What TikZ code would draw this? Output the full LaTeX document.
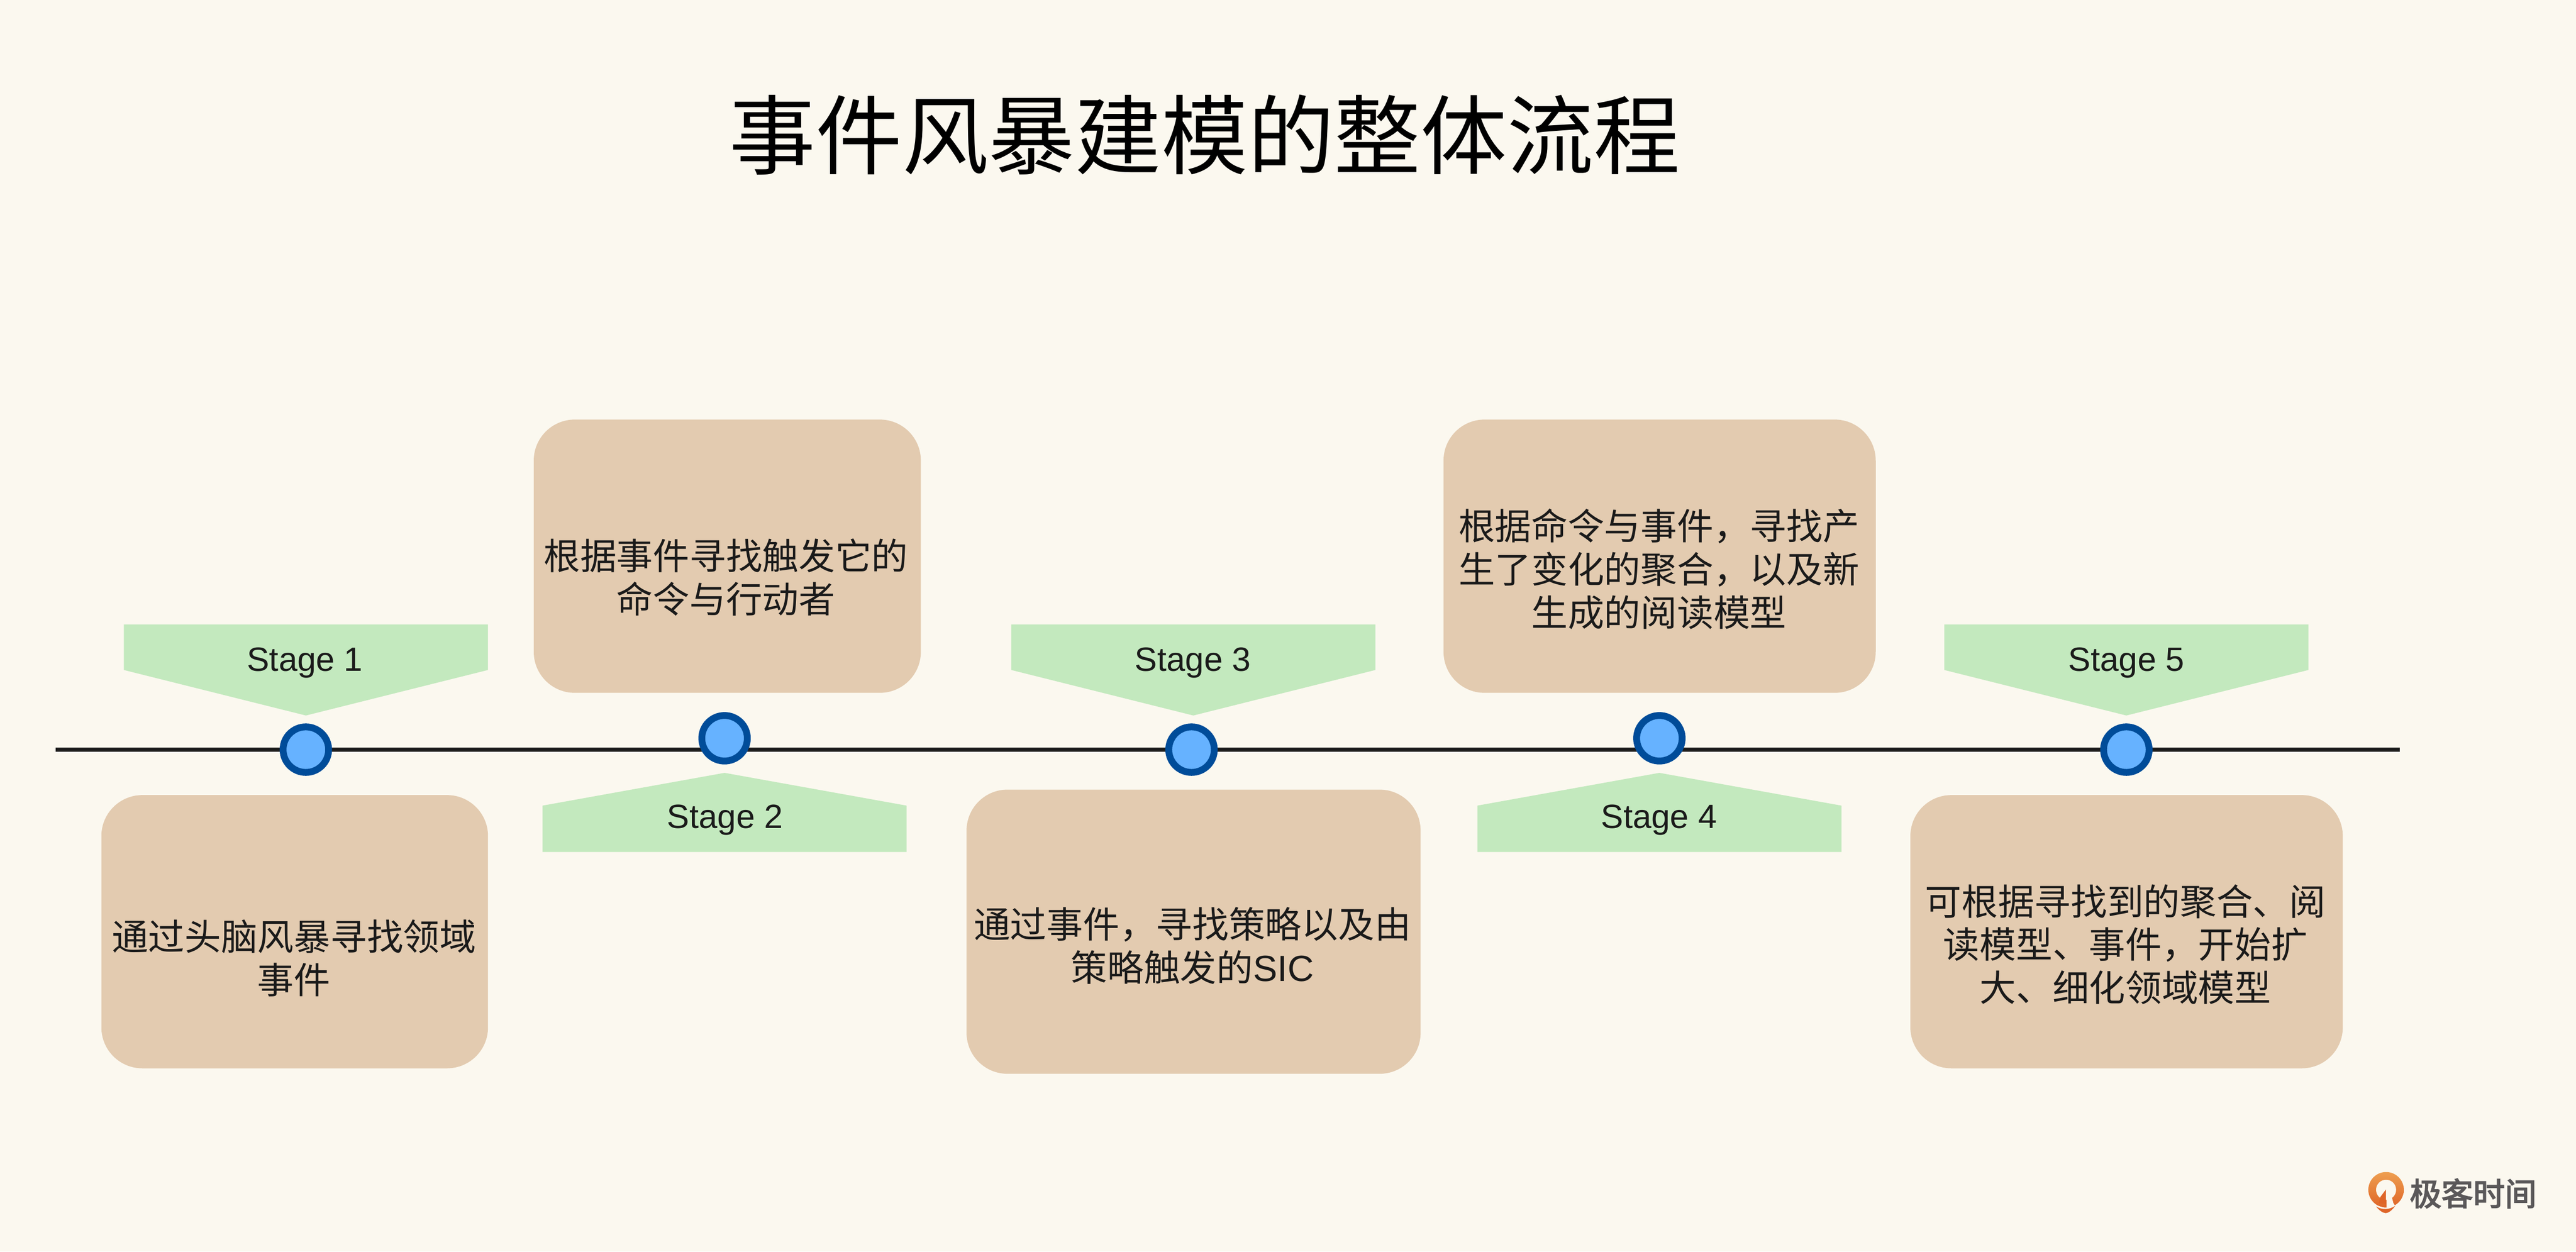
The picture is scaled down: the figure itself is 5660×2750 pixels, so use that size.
\documentclass[tikz,border=0pt]{standalone}
\usepackage{fontspec}
\setmainfont{Liberation Sans}
\newfontfamily\cjk{Noto Sans CJK SC}
\newfontfamily\logofont[FakeBold=3]{Noto Sans CJK SC}
\definecolor{pagebg}{HTML}{FBF8EF}
\definecolor{boxfill}{HTML}{E3CBB0}
\definecolor{stagefill}{HTML}{C3E9BE}
\definecolor{dotfill}{HTML}{66B2FF}
\definecolor{dotline}{HTML}{004C99}
\definecolor{textcol}{HTML}{1A1A1A}
\definecolor{logotop}{HTML}{EE9F50}
\definecolor{logobot}{HTML}{DF6528}
\definecolor{logotext}{HTML}{5A5859}
\tikzset{
    notebox/.style={rectangle, rounded corners=0.9cm, fill=boxfill, inner sep=0pt},
    notetext/.style={align=center, text=textcol, inner sep=0pt, font=\cjk\fontsize{22.76}{27}\selectfont},
    stagetext/.style={text=textcol, inner sep=0pt, font=\fontsize{21}{25}\selectfont},
    stagedot/.style={circle, minimum size=1cm, inner sep=0pt, fill=dotfill, draw=dotline, line width=0.15cm},
}
\begin{document}
\begin{tikzpicture}[x=0.01cm, y=-0.01cm]
    % Page
    \fill[pagebg] (0,0) rectangle (5660,2750);
    \useasboundingbox (0,0) rectangle (5660,2750);

    \node[text=black, inner sep=0pt, font=\cjk\fontsize{54}{60}\selectfont] (title) at (2647,296) {事件风暴建模的整体流程};

    % Stage flags above the line
    \foreach \x/\t/\n in {672/670/1, 2622/2621/3, 4672/4672/5} {
        \fill[stagefill] (\x-400,1372) -- (\x+400,1372) -- (\x+400,1472) -- (\x,1572) -- (\x-400,1472) -- cycle;
        \node[stagetext] (stage\n) at (\t,1456) {Stage \n};
    }
    % Stage flags below the line
    \foreach \x/\t/\n in {1592/1593/2, 3646/3645/4} {
        \fill[stagefill] (\x-400,1872) -- (\x+400,1872) -- (\x+400,1770) -- (\x,1698) -- (\x-400,1770) -- cycle;
        \node[stagetext] (stage\n) at (\t,1802) {Stage \n};
    }

    % Boxes
    \node[notebox, minimum width=8.49cm, minimum height=6cm] (boxa) at (647.5,2047) {};
    \node[notebox, minimum width=8.5cm, minimum height=6cm] (boxb) at (1598,1222) {};
    \node[notebox, minimum width=9.97cm, minimum height=6.24cm] (boxc) at (2622.5,2047) {};
    \node[notebox, minimum width=9.49cm, minimum height=6cm] (boxd) at (3646.5,1222) {};
    \node[notebox, minimum width=9.495cm, minimum height=6cm] (boxe) at (4672.5,2047) {};

    \node[notetext] (texta) at (646,2105) {通过头脑风暴寻找领域\\事件};
    \node[notetext] (textb) at (1595,1268) {根据事件寻找触发它的\\命令与行动者};
    \node[notetext] (textc) at (2620,2078) {通过事件，寻找策略以及由\\策略触发的{\rmfamily SIC}};
    \node[notetext] (textd) at (3645,1250) {根据命令与事件，寻找产\\生了变化的聚合，以及新\\生成的阅读模型};
    \node[notetext] (texte) at (4670,2075) {可根据寻找到的聚合、阅\\读模型、事件，开始扩\\大、细化领域模型};

    % Time line and its dots
    \coordinate (linestart) at (122,1647);
    \coordinate (lineend) at (5273,1647);
    \draw[textcol, line width=0.1cm] (linestart) -- (lineend);
    \foreach \x/\y/\n in {672/1647/1, 1592/1622/2, 2618/1647/3, 3646/1622/4, 4672/1647/5} {
        \node[stagedot] (dot\n) at (\x,\y) {};
    }

    % Logo
    \begin{scope}[shift={(5190,2560)}, scale=0.3333]
        \shade[top color=logotop, bottom color=logobot] (158,162) circle (117);
        \fill[pagebg] (158,162) circle (66);
        \fill[logobot] (157,160) -- (120,210) -- (110,250) -- (157,255) -- cycle;
        \fill[pagebg] (161,163) -- (161,285) -- (230,285) -- (206,250) -- (197,215) -- cycle;
        \fill[pagebg] (85,262) -- (161,285) -- (230,262) -- (230,285) -- (85,285) -- cycle;
        \fill[logobot] (92,272) .. controls (130,295) and (180,295) .. (218,268) .. controls (200,295) and (175,315) .. (155,316) .. controls (135,315) and (110,295) .. (92,272) -- cycle;
    \end{scope}
    \node[text=logotext, inner sep=0pt, font=\logofont\fontsize{19.8}{24}\selectfont] (logoname) at (5434,2622) {极客时间};
\end{tikzpicture}
\end{document}
